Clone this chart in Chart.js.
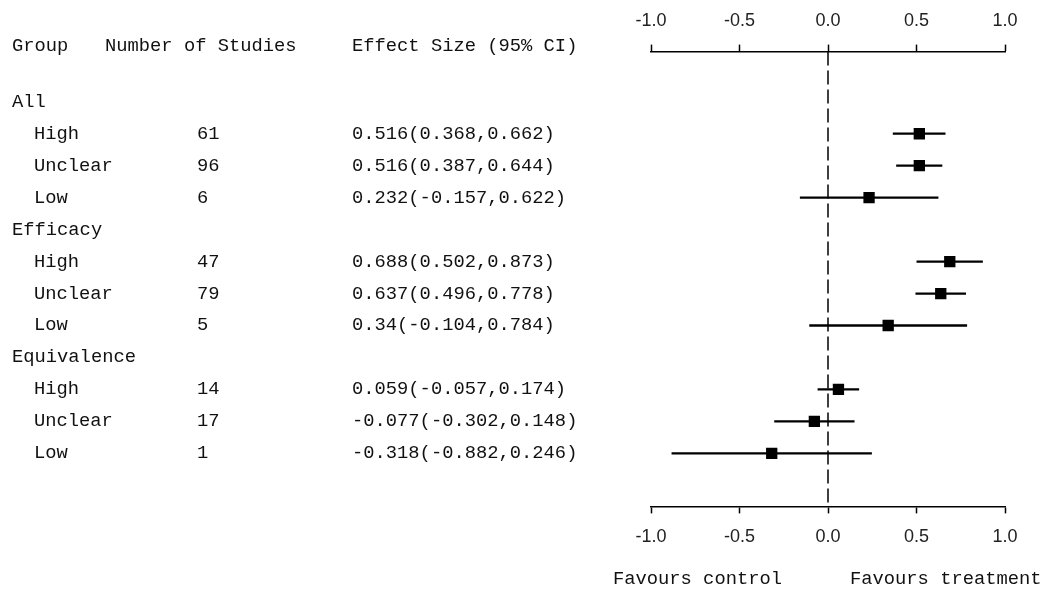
<!DOCTYPE html>
<html>
<head>
<meta charset="utf-8">
<title>Forest plot</title>
<script src="https://cdn.jsdelivr.net/npm/chart.js@4.4.1/dist/chart.umd.min.js"></script>
<style>
    html, body { margin: 0; padding: 0; background: #fff; }
    #wrap { width: 1048px; height: 595px; }
</style>
</head>
<body>
<div id="wrap"><canvas id="forest" width="1048" height="595"></canvas></div>
<script>
const groups = ['All', 'Efficacy', 'Equivalence'];
const riskLevels = ['High', 'Unclear', 'Low'];
const studies = [61, 96, 6, 47, 79, 5, 14, 17, 1];
const effect = [0.516, 0.516, 0.232, 0.688, 0.637, 0.34, 0.059, -0.077, -0.318];
const lower = [0.368, 0.387, -0.157, 0.502, 0.496, -0.104, -0.057, -0.302, -0.882];
const upper = [0.662, 0.644, 0.622, 0.873, 0.778, 0.784, 0.174, 0.148, 0.246];
const xTicks = [-1.0, -0.5, 0.0, 0.5, 1.0];
const headers = ['Group', 'Number of Studies', 'Effect Size (95% CI)'];
const favours = ['Favours control', 'Favours treatment'];

// each group takes a heading row followed by one row per risk level
const rowOf = (i) => Math.floor(i / riskLevels.length) * (riskLevels.length + 1) + 1 + (i % riskLevels.length);

const monoFont = '18.8px "Liberation Mono", "Courier New", monospace';
const rowMin = -1.57;
const rowMax = 12.66;

const tablePlugin = {
    id: 'forestTable',
    beforeDatasetsDraw: (chart) => {
        const { ctx, chartArea } = chart;
        const x = chart.scales.x;
        const zero = x.getPixelForValue(0);
        ctx.save();
        ctx.strokeStyle = '#000';
        ctx.lineWidth = 1.5;
        ctx.setLineDash([14, 5]);
        ctx.beginPath();
        ctx.moveTo(zero, chartArea.top);
        ctx.lineTo(zero, chartArea.bottom);
        ctx.stroke();
        ctx.restore();
    },
    afterDraw: (chart) => {
        const { ctx } = chart;
        const y = chart.scales.y;
        const x = chart.scales.x;
        const zero = x.getPixelForValue(0);
        ctx.save();
        ctx.font = monoFont;
        ctx.fillStyle = '#111';
        ctx.textBaseline = 'middle';
        ctx.textAlign = 'left';

        const headY = y.getPixelForValue(-1.75);
        ctx.fillText(headers[0], 12, headY);
        ctx.fillText(headers[1], 105, headY);
        ctx.fillText(headers[2], 352, headY);

        groups.forEach((g, gi) => {
            ctx.fillText(g, 12, y.getPixelForValue(gi * (riskLevels.length + 1)));
        });
        effect.forEach((e, i) => {
            const py = y.getPixelForValue(rowOf(i));
            ctx.fillText(riskLevels[i % riskLevels.length], 34, py);
            ctx.fillText(String(studies[i]), 197, py);
            ctx.fillText(`${e}(${lower[i]},${upper[i]})`, 352, py);
        });

        const fy = chart.height - 16;
        ctx.textAlign = 'right';
        ctx.fillText(favours[0], zero - 46, fy);
        ctx.textAlign = 'left';
        ctx.fillText(favours[1], zero + 22, fy);
        ctx.restore();
    }
};

const axisStyle = (position) => ({
    type: 'linear',
    position: position,
    min: -1,
    max: 1,
    afterBuildTicks: (scale) => {
        scale.ticks = xTicks.map(v => ({ value: v }));
    },
    ticks: {
        callback: (value) => Number(value).toFixed(1),
        color: '#222',
        padding: 13,
        maxRotation: 0,
        font: { family: '"Liberation Sans", Arial, sans-serif', size: 18 }
    },
    grid: {
        drawOnChartArea: false,
        drawTicks: true,
        tickLength: 7,
        tickWidth: 1.5,
        tickColor: '#000'
    },
    border: { display: true, color: '#000', width: 1.5 }
});

new Chart(document.getElementById('forest'), {
    type: 'scatter',
    data: {
        datasets: [
            {
                label: 'Effect size',
                order: 0,
                data: effect.map((e, i) => ({ x: e, y: rowOf(i) })),
                pointStyle: 'rect',
                pointRadius: 8,
                pointHoverRadius: 8,
                backgroundColor: '#000',
                borderWidth: 0
            },
            {
                type: 'bar',
                label: '95% CI',
                order: 1,
                indexAxis: 'y',
                data: effect.map((e, i) => ({ x: [lower[i], upper[i]], y: rowOf(i) })),
                backgroundColor: '#000',
                borderWidth: 0,
                barThickness: 1.6,
                xAxisID: 'x',
                yAxisID: 'y'
            }
        ]
    },
    options: {
        responsive: false,
        animation: false,
        devicePixelRatio: 1,
        layout: {
            padding: { left: 651, right: 43, top: -3, bottom: 34 }
        },
        plugins: {
            legend: { display: false },
            tooltip: { enabled: false }
        },
        scales: {
            x: axisStyle('top'),
            x2: axisStyle('bottom'),
            y: {
                type: 'linear',
                display: false,
                reverse: true,
                offset: false,
                bounds: 'data',
                min: rowMin,
                max: rowMax,
                afterDataLimits: (scale) => {
                    scale.min = rowMin;
                    scale.max = rowMax;
                },
                afterBuildTicks: (scale) => {
                    scale.min = rowMin;
                    scale.max = rowMax;
                }
            }
        }
    },
    plugins: [tablePlugin]
});
</script>
</body>
</html>
